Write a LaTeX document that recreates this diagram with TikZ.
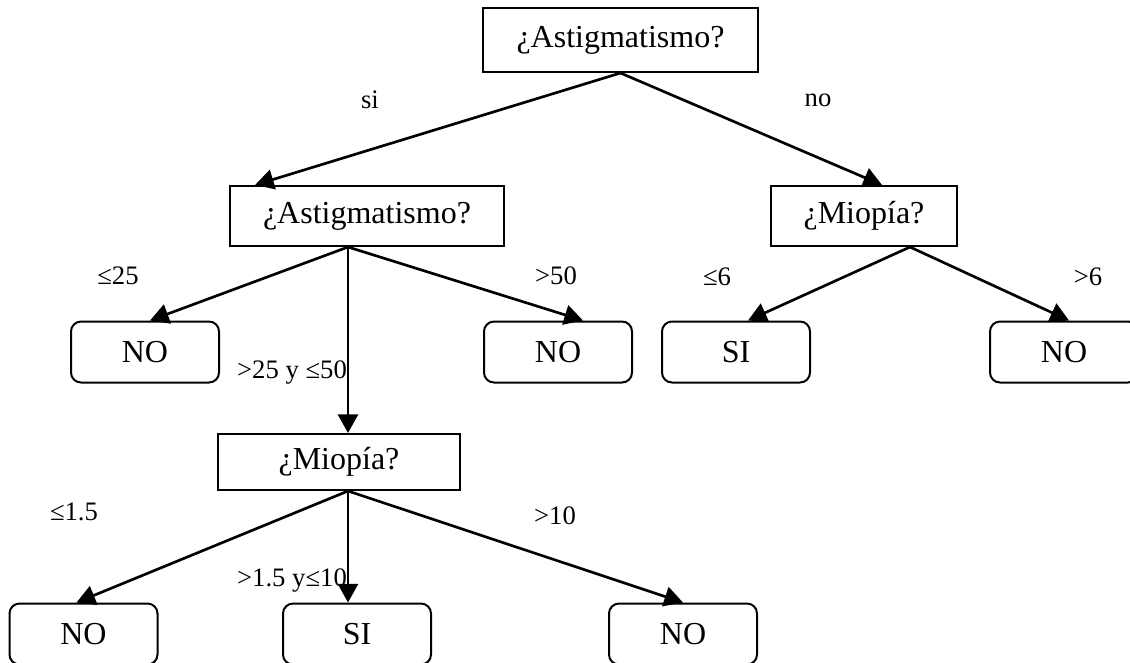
\documentclass[tikz,border=0pt]{standalone}
\usepackage{fontspec}
\setmainfont{Liberation Serif}
\usetikzlibrary{arrows.meta,calc}

\begin{document}
\begin{tikzpicture}[x=0.75pt, y=-0.75pt,
	every node/.style={inner sep=0pt},
	question/.style={draw, line width=1.5pt, font=\fontsize{24}{28}\selectfont},
	leaf/.style={draw, line width=1.5pt, rounded corners=7.5pt, minimum width=111pt, minimum height=45.75pt, font=\fontsize{24}{28}\selectfont},
	branch/.style={font=\fontsize{20}{24}\selectfont},
	arr/.style={line width=2pt, -{Triangle[length=14pt,width=15pt]}}]

	\useasboundingbox (0,0) rectangle (1130,662);

	\node[question, minimum width=206pt, minimum height=48pt] (root) at (620.5,40) {¿Astigmatismo?};
	\node[question, minimum width=205.5pt, minimum height=45pt] (astig) at (367,216) {¿Astigmatismo?};
	\node[question, minimum width=139.5pt, minimum height=45pt] (miopR) at (864,216) {¿Miopía?};
	\node[question, minimum width=181.5pt, minimum height=42pt] (miopL) at (339,462) {¿Miopía?};

	\node[leaf] (noA) at (145,352) {NO};
	\node[leaf] (noB) at (558,352) {NO};
	\node[leaf] (siA) at (736,352) {SI};
	\node[leaf] (noC) at (1064,352) {NO};
	\node[leaf] (noD) at (83.5,634) {NO};
	\node[leaf] (siB) at (357,634) {SI};
	\node[leaf] (noE) at (683,634) {NO};

	\draw[arr] (root.south) -- ($(astig.north)+(-112,0)$);
	\draw[arr] (root.south) -- ($(miopR.north)+(18,0)$);

	\draw[arr] ($(astig.south)+(-19,0)$) -- ($(noA.north)+(5,0)$);
	\draw[arr] ($(astig.south)+(-19,0)$) -- ($(miopL.north)+(9,0)$);
	\draw[arr] ($(astig.south)+(-19,0)$) -- ($(noB.north)+(25,0)$);

	\draw[arr] ($(miopR.south)+(46,0)$) -- ($(siA.north)+(12,0)$);
	\draw[arr] ($(miopR.south)+(46,0)$) -- ($(noC.north)+(5,0)$);

	\draw[arr] ($(miopL.south)+(9,0)$) -- ($(noD.north)+(-7,0)$);
	\draw[arr] ($(miopL.south)+(9,0)$) -- ($(siB.north)+(-9,0)$);
	\draw[arr] ($(miopL.south)+(9,0)$) -- (noE.north);

	\node[branch] (lsi) at (370,100) {si};
	\node[branch] (lno) at (818,100) {no};
	\node[branch] (lle25) at (118,276) {≤25};
	\node[branch] (lgt50) at (556,276) {>50};
	\node[branch] (lmid) at (292,372) {>25 y ≤50};
	\node[branch] (lle6) at (717,277) {≤6};
	\node[branch] (lgt6) at (1088,277) {>6};
	\node[branch] (lle15) at (74,512) {≤1.5};
	\node[branch] (lmid2) at (292,580) {>1.5 y≤10};
	\node[branch] (lgt10) at (555,516) {>10};
\end{tikzpicture}
\end{document}
